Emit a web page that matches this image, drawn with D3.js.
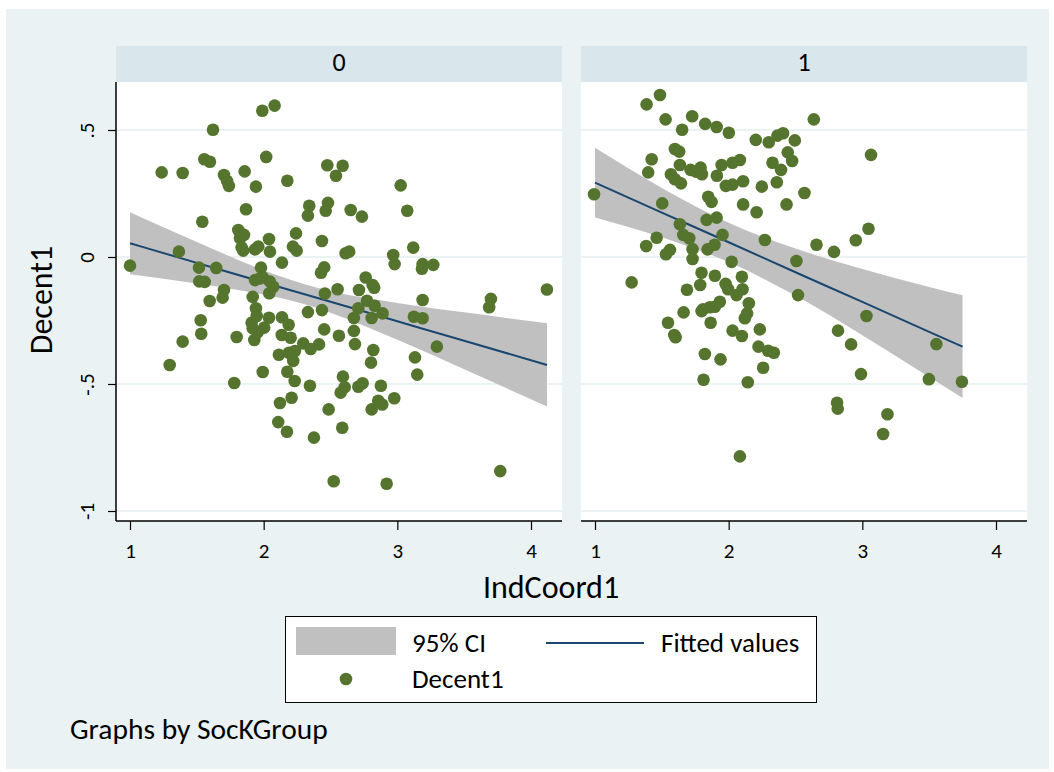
<!DOCTYPE html>
<html>
<head>
<meta charset="utf-8">
<script src="https://cdn.jsdelivr.net/npm/d3@7"></script>
<style>
    body { margin: 0; background: #fff; }
    svg text { font-family: Carlito, Calibri, Lato, sans-serif; fill: #000; }
</style>
</head>
<body>
<div class="cichart"></div>
<script>

// ---- data ----
var groups = ["0", "1"];
var xTicks = [1, 2, 3, 4];
var yTicks = [-1, -0.5, 0, 0.5];
var yTickLabels = ["-1", "-.5", "0", ".5"];

// SocKGroup == 0
var g0x = [1.99, 2.082, 1.621, 2.019, 1.237, 1.394, 1.556, 1.598, 1.703, 1.726, 1.74, 1.858, 1.942, 2.177, 2.476, 2.591, 2.541,
    1.868, 2.341, 2.331, 2.481, 2.464, 2.651, 1.541, 1.81, 1.853, 1.823, 1.835, 1.847, 2.04, 2.242, 2.436, 2.219, 2.247,
    1.935, 1.96, 2.047, 2.137, 2.613, 2.64, 1.366, 1.0, 1.516, 1.645, 1.98, 1.993, 1.935, 1.972, 2.047, 2.072, 2.042,
    1.518, 1.559, 1.703, 1.693, 1.596, 1.918, 2.429, 2.453, 2.458, 2.553, 3.025, 2.735, 3.074, 3.119, 2.969, 2.98,
    3.189, 3.184, 3.269, 2.763, 2.815, 2.827, 2.713, 4.119, 3.7, 3.687, 3.189, 2.773, 2.83, 2.708, 2.89, 2.675, 2.808,
    3.124, 3.189, 2.675, 2.683, 2.82, 2.803, 3.296, 3.132, 3.149, 2.74, 2.708, 2.877, 2.977, 2.857, 2.887, 2.808,
    3.77, 2.92, 1.942, 1.948, 1.91, 1.918, 2.004, 2.04, 1.93, 1.957, 2.137, 2.187, 2.135, 2.202, 2.331, 2.436, 2.453,
    2.563, 1.529, 1.533, 1.394, 1.297, 1.798, 2.296, 2.352, 2.414, 2.114, 2.189, 2.234, 2.221, 1.993, 2.177, 2.232,
    2.346, 1.78, 2.593, 2.606, 2.576, 2.209, 2.122, 2.486, 2.109, 2.174, 2.376, 2.588, 2.524];
var g0y = [0.576, 0.596, 0.501, 0.394, 0.333, 0.331, 0.385, 0.375, 0.323, 0.299, 0.28, 0.337, 0.277, 0.3, 0.361, 0.359, 0.32,
    0.188, 0.202, 0.163, 0.213, 0.182, 0.185, 0.139, 0.106, 0.087, 0.074, 0.038, 0.025, 0.071, 0.093, 0.063, 0.041, 0.025,
    0.03, 0.041, 0.021, -0.022, 0.015, 0.021, 0.021, -0.034, -0.042, -0.043, -0.042, -0.08, -0.091, -0.084, -0.097, -0.117, -0.143,
    -0.096, -0.098, -0.13, -0.16, -0.173, -0.157, -0.062, -0.041, -0.144, -0.127, 0.282, 0.159, 0.182, 0.037, 0.008, -0.028,
    -0.028, -0.046, -0.031, -0.081, -0.11, -0.121, -0.13, -0.128, -0.165, -0.198, -0.169, -0.172, -0.192, -0.202, -0.222, -0.24, -0.24,
    -0.235, -0.241, -0.291, -0.343, -0.366, -0.416, -0.353, -0.395, -0.463, -0.497, -0.511, -0.507, -0.556, -0.566, -0.581, -0.6,
    -0.843, -0.893, -0.202, -0.232, -0.259, -0.281, -0.278, -0.239, -0.327, -0.295, -0.237, -0.267, -0.307, -0.318, -0.217, -0.209, -0.285,
    -0.31, -0.249, -0.302, -0.333, -0.425, -0.315, -0.34, -0.362, -0.344, -0.385, -0.377, -0.37, -0.409, -0.453, -0.452, -0.488,
    -0.507, -0.496, -0.471, -0.513, -0.534, -0.554, -0.575, -0.6, -0.65, -0.688, -0.711, -0.672, -0.883];

// SocKGroup == 1
var g1x = [1.486, 1.386, 1.528, 1.727, 1.824, 1.91, 2.001, 1.652, 2.203, 2.3, 2.365, 2.407, 2.495, 2.442, 2.475, 1.598, 1.63,
    1.424, 1.398, 1.635, 1.568, 1.598, 1.643, 1.715, 1.755, 1.79, 1.8, 1.947, 2.029, 2.084, 1.912, 2.328, 2.392, 2.108,
    1.979, 2.029, 2.248, 2.36, 1.847, 1.872, 2.108, 2.209, 2.433, 0.993, 1.503, 1.835, 1.91, 1.635, 1.954, 1.66, 1.705,
    1.461, 1.383, 1.73, 1.842, 1.895, 1.561, 1.531, 2.271, 2.022, 1.73, 2.507, 1.797, 1.897, 2.099, 1.274, 1.787, 1.688,
    1.977, 1.996, 2.104, 2.059, 2.519, 2.637, 3.065, 2.567, 3.046, 2.951, 2.657, 2.788, 1.934, 1.897, 1.859, 1.809, 1.797,
    2.151, 2.138, 2.121, 1.663, 1.546, 1.593, 1.603, 1.865, 2.029, 2.099, 2.233, 2.223, 2.295, 2.338, 1.822, 1.939, 2.258,
    1.812, 2.143, 2.084, 3.031, 2.818, 2.916, 3.554, 2.99, 3.498, 3.745, 2.811, 2.816, 3.188, 3.155];
var g1y = [0.638, 0.601, 0.542, 0.554, 0.524, 0.512, 0.489, 0.501, 0.461, 0.452, 0.478, 0.487, 0.459, 0.412, 0.378, 0.425, 0.415,
    0.385, 0.333, 0.362, 0.326, 0.306, 0.29, 0.343, 0.336, 0.352, 0.326, 0.362, 0.371, 0.382, 0.32, 0.371, 0.343, 0.298,
    0.28, 0.285, 0.277, 0.294, 0.237, 0.217, 0.207, 0.176, 0.207, 0.247, 0.211, 0.146, 0.155, 0.129, 0.087, 0.087, 0.074,
    0.076, 0.043, 0.031, 0.03, 0.048, 0.028, 0.011, 0.067, -0.019, -0.008, -0.016, -0.062, -0.074, -0.078, -0.1, -0.11, -0.129,
    -0.106, -0.127, -0.127, -0.15, -0.15, 0.542, 0.402, 0.252, 0.111, 0.066, 0.048, 0.02, -0.176, -0.196, -0.198, -0.206, -0.213,
    -0.182, -0.222, -0.241, -0.218, -0.259, -0.307, -0.316, -0.259, -0.29, -0.311, -0.285, -0.353, -0.369, -0.377, -0.382, -0.403, -0.436,
    -0.483, -0.493, -0.785, -0.232, -0.29, -0.344, -0.343, -0.461, -0.481, -0.491, -0.574, -0.597, -0.619, -0.697];

// lfitci output, fitted values and 95% CI
var fitX0 = [1, 1.5, 2, 2.3, 2.5, 3, 3.5, 4.12];
var fitY0 = [0.054, -0.023, -0.1, -0.146, -0.176, -0.253, -0.33, -0.425];
var ciHi0 = [0.176, 0.059, -0.052, -0.106, -0.134, -0.181, -0.218, -0.261];
var ciLo0 = [-0.068, -0.104, -0.148, -0.185, -0.219, -0.326, -0.442, -0.589];

var fitX1 = [1, 1.5, 2, 2.5, 3, 3.5, 3.75];
var fitY1 = [0.2925, 0.175, 0.058, -0.06, -0.177, -0.295, -0.353];
var ciHi1 = [0.43, 0.272, 0.135, 0.033, -0.047, -0.118, -0.151];
var ciLo1 = [0.156, 0.078, -0.02, -0.152, -0.308, -0.472, -0.555];

var legendLabels = ["95% CI", "Fitted values", "Decent1"];

// ---- layout ----
var width = 1054, height = 772;
var panelLeft = [116, 581];
var panelW = 446;
var plotTop = 82, plotBottom = 521;

var bgColor = "#eaf2f3";
var headColor = "#d9e6eb";
var ciColor = "#c0c0c0";
var lineColor = "#1a476f";
var dotColor = "#55752f";

var panels = [
    { name: groups[0], xs: g0x, ys: g0y, fx: fitX0, fy: fitY0, hi: ciHi0, lo: ciLo0 },
    { name: groups[1], xs: g1x, ys: g1y, fx: fitX1, fy: fitY1, hi: ciHi1, lo: ciLo1 }
];

var svg = d3.select(".cichart").append("svg")
    .attr("width", width)
    .attr("height", height);

// outer background
svg.append("rect")
    .attr("x", 6).attr("y", 9)
    .attr("width", 1043).attr("height", 760)
    .attr("fill", bgColor);

var y = d3.scaleLinear().domain([-1, 0.5]).range([511, 130]);

panels.forEach(function (p, i) {
    var left = panelLeft[i];
    var x = d3.scaleLinear().domain([1, 4]).range([left + 14, left + 415]);

    var g = svg.append("g");

    // header strip
    g.append("rect")
        .attr("x", left).attr("y", 46)
        .attr("width", panelW).attr("height", plotTop - 46)
        .attr("fill", headColor);
    g.append("text")
        .attr("x", left + panelW / 2).attr("y", 71)
        .attr("text-anchor", "middle")
        .style("font-size", "26px")
        .text(p.name);

    // plot region
    g.append("rect")
        .attr("x", left).attr("y", plotTop)
        .attr("width", panelW).attr("height", plotBottom - plotTop)
        .attr("fill", "#fff");

    // gridlines
    g.selectAll(".grid")
        .data(yTicks)
        .enter().append("line")
        .attr("x1", left).attr("x2", left + panelW)
        .attr("y1", function (d) { return y(d); })
        .attr("y2", function (d) { return y(d); })
        .attr("stroke", bgColor)
        .attr("stroke-width", 2);

    // CI band
    var ciData = p.fx.map(function (d, k) { return { x: d, hi: p.hi[k], lo: p.lo[k], fit: p.fy[k] }; });
    var area = d3.area()
        .x(function (d) { return x(d.x); })
        .y0(function (d) { return y(d.lo); })
        .y1(function (d) { return y(d.hi); })
        .curve(d3.curveMonotoneX);
    g.append("path").datum(ciData)
        .attr("d", area)
        .attr("fill", ciColor);

    // fitted line
    var line = d3.line()
        .x(function (d) { return x(d.x); })
        .y(function (d) { return y(d.fit); })
        .curve(d3.curveMonotoneX);
    g.append("path").datum(ciData)
        .attr("d", line)
        .attr("fill", "none")
        .attr("stroke", lineColor)
        .attr("stroke-width", 2);

    // scatter
    var pts = p.xs.map(function (d, k) { return [d, p.ys[k]]; });
    g.selectAll("circle")
        .data(pts)
        .enter().append("circle")
        .attr("cx", function (d) { return x(d[0]); })
        .attr("cy", function (d) { return y(d[1]); })
        .attr("r", 6.3)
        .attr("fill", dotColor);

    // x axis
    var xAxis = d3.axisBottom(x).tickValues(xTicks).tickSize(9).tickPadding(13).tickSizeOuter(0)
        .tickFormat(d3.format("d"));
    var xg = g.append("g")
        .attr("transform", "translate(0," + plotBottom + ")")
        .call(xAxis);
    xg.select(".domain").remove();
    xg.selectAll("text").style("font-size", "21px").style("font-family", null);
    xg.selectAll("line").attr("stroke", "#000").attr("stroke-width", 1.2);
    g.append("line")
        .attr("x1", left).attr("x2", left + panelW)
        .attr("y1", plotBottom).attr("y2", plotBottom)
        .attr("stroke", "#000").attr("stroke-width", 1.5);

    // y axis only on first panel
    if (i === 0) {
        var yAxis = d3.axisLeft(y).tickValues(yTicks).tickSize(8).tickSizeOuter(0)
            .tickFormat(function (d, k) { return yTickLabels[k]; });
        var yg = g.append("g")
            .attr("transform", "translate(" + left + ",0)")
            .call(yAxis);
        yg.select(".domain").remove();
        yg.selectAll("line").attr("stroke", "#000").attr("stroke-width", 1.2);
        yg.selectAll("text")
            .attr("x", null).attr("dy", null)
            .attr("text-anchor", "middle")
            .attr("transform", "translate(-22,0) rotate(-90)")
            .style("font-size", "21px").style("font-family", null);
        g.append("line")
            .attr("x1", left).attr("x2", left)
            .attr("y1", plotTop).attr("y2", plotBottom)
            .attr("stroke", "#000").attr("stroke-width", 1.5);
    }
});

// axis titles
svg.append("text")
    .attr("x", 551).attr("y", 598)
    .attr("text-anchor", "middle")
    .style("font-size", "32px")
    .text("IndCoord1");

svg.append("text")
    .attr("transform", "translate(52,300) rotate(-90)")
    .attr("text-anchor", "middle")
    .style("font-size", "32px")
    .text("Decent1");

// legend
var leg = svg.append("g");
leg.append("rect")
    .attr("x", 285.5).attr("y", 616.5)
    .attr("width", 531).attr("height", 86)
    .attr("fill", "#fff").attr("stroke", "#000").attr("stroke-width", 1);
leg.append("rect")
    .attr("x", 296).attr("y", 627)
    .attr("width", 100).attr("height", 28)
    .attr("fill", ciColor);
leg.append("text").attr("x", 412).attr("y", 651.5).style("font-size", "27px").text(legendLabels[0]);
leg.append("line")
    .attr("x1", 546).attr("x2", 644)
    .attr("y1", 643).attr("y2", 643)
    .attr("stroke", lineColor).attr("stroke-width", 2);
leg.append("text").attr("x", 661).attr("y", 651.5).style("font-size", "27px").text(legendLabels[1]);
leg.append("circle")
    .attr("cx", 346).attr("cy", 679).attr("r", 6.3)
    .attr("fill", dotColor);
leg.append("text").attr("x", 412).attr("y", 688).style("font-size", "27px").text(legendLabels[2]);

// note
svg.append("text")
    .attr("x", 70).attr("y", 739)
    .style("font-size", "29.5px")
    .text("Graphs by SocKGroup");

</script>
</body>
</html>
